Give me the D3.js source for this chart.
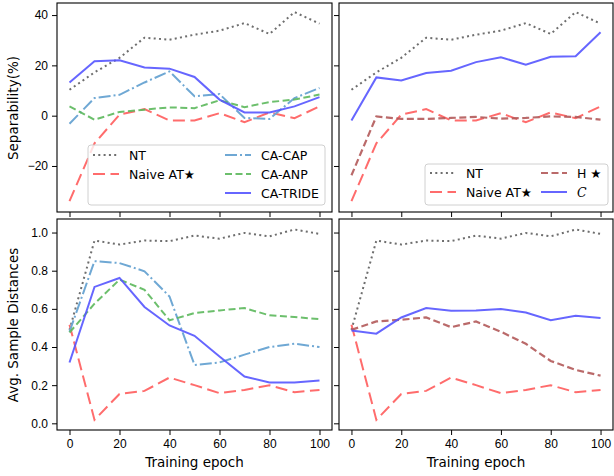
<!DOCTYPE html>
<html>
<head>
<meta charset="utf-8">
<script src="https://cdn.jsdelivr.net/npm/d3@7"></script>
<style>
  body { margin: 0; background: #fff; }
  svg { font-family: "DejaVu Sans", sans-serif; }
  .tick text { font-size: 12px; fill: #000; }
</style>
</head>
<body>
<svg width="614" height="476"></svg>
<script>
const epochs = [0, 10, 20, 30, 40, 50, 60, 70, 80, 90, 100];

// separability (%)
const sepNT = [10.3, 17.2, 23, 31, 30.2, 32.2, 33.8, 36.8, 32.5, 41.2, 36.6];
const sepNaive = [-34, -11, 0.4, 2.6, -1.9, -1.9, 1, -2.6, 1.3, -1, 3.7];
const sepCAP = [-3.2, 7, 8.3, 13.2, 17.6, 7.7, 8.6, -0.9, -1.3, 7, 11];
const sepANP = [3.7, -1.6, 1.5, 2.4, 3.3, 3, 6.1, 3.4, 5.4, 6.4, 8.4];
const sepTRIDE = [13.2, 21.6, 22, 19.2, 18.7, 15.4, 6.4, 1.3, 1.3, 3.7, 7.4];
const sepH = [-23.7, -0.3, -1.3, -1.3, -0.9, -0.5, -1.2, -0.9, -0.3, -0.5, -1.6];
const sepC = [-1.9, 15.2, 14, 17, 17.9, 21.3, 23.2, 20.3, 23.4, 23.6, 33.2];

// avg. sample distances
const distNT = [0.49, 0.958, 0.937, 0.958, 0.955, 0.984, 0.968, 0.998, 0.98, 1.016, 0.993];
const distNaive = [0.517, 0.018, 0.154, 0.17, 0.24, 0.2, 0.158, 0.175, 0.2, 0.163, 0.175];
const distCAP = [0.48, 0.85, 0.84, 0.797, 0.665, 0.306, 0.319, 0.36, 0.4, 0.417, 0.4];
const distANP = [0.476, 0.627, 0.753, 0.7, 0.54, 0.578, 0.592, 0.604, 0.566, 0.557, 0.546];
const distTRIDE = [0.319, 0.715, 0.762, 0.61, 0.513, 0.459, 0.35, 0.245, 0.214, 0.214, 0.224];
const distH = [0.49, 0.534, 0.543, 0.555, 0.504, 0.534, 0.48, 0.417, 0.327, 0.28, 0.25];
const distC = [0.487, 0.47, 0.555, 0.604, 0.59, 0.592, 0.599, 0.581, 0.54, 0.564, 0.552];

const xTicks = [0, 20, 40, 60, 80, 100];
const sepTicks = [-20, 0, 20, 40];
const distTicks = [0, 0.2, 0.4, 0.6, 0.8, 1.0];

const styles = {
  NT: { color: "#555", dash: "2,3.3", width: 2, opacity: 0.85 },
  Naive: { color: "#ff5c5c", dash: "12,5.5", width: 2, opacity: 0.9 },
  CAP: { color: "#6fa8d4", dash: "12,3,2,3", width: 2, opacity: 1 },
  ANP: { color: "#5cb85c", dash: "7,3.5", width: 2, opacity: 0.9 },
  TRIDE: { color: "#5555ff", dash: null, width: 2, opacity: 0.9 },
  H: { color: "#b25a5a", dash: "7,3.5", width: 2.2, opacity: 0.9 },
  C: { color: "#5555ff", dash: null, width: 2, opacity: 0.9 }
};

const svg = d3.select("svg");

const panels = [
  { x0: 57, x1: 332, y0: 3, y1: 212, dom: [-38.3, 44.8], ticks: sepTicks, labels: true, fmt: d3.format("d"),
    series: [["NT", sepNT], ["Naive", sepNaive], ["CAP", sepCAP], ["ANP", sepANP], ["TRIDE", sepTRIDE]] },
  { x0: 339, x1: 613, y0: 3, y1: 212, dom: [-38.3, 44.8], ticks: sepTicks, labels: false,
    series: [["NT", sepNT], ["Naive", sepNaive], ["H", sepH], ["C", sepC]] },
  { x0: 57, x1: 332, y0: 219, y1: 430, dom: [-0.035, 1.071], ticks: distTicks, labels: true, fmt: d3.format(".1f"), xlab: true,
    series: [["NT", distNT], ["Naive", distNaive], ["CAP", distCAP], ["ANP", distANP], ["TRIDE", distTRIDE]] },
  { x0: 339, x1: 613, y0: 219, y1: 430, dom: [-0.035, 1.071], ticks: distTicks, labels: false, xlab: true,
    series: [["NT", distNT], ["Naive", distNaive], ["H", distH], ["C", distC]] }
];

panels.forEach((p) => {
  const x = d3.scaleLinear().domain([-5, 105]).range([p.x0, p.x1]);
  const y = d3.scaleLinear().domain(p.dom).range([p.y1, p.y0]);

  const xAxis = d3.axisBottom(x).tickValues(xTicks).tickSize(5).tickPadding(4);
  if (!p.xlab) xAxis.tickFormat("");
  svg.append("g")
    .attr("transform", `translate(0,${p.y1})`)
    .call(xAxis)
    .call((g) => g.select(".domain").remove());

  const yAxis = d3.axisLeft(y).tickValues(p.ticks).tickSize(5).tickPadding(4);
  yAxis.tickFormat(p.labels ? (d) => p.fmt(d).replace("-", "\u2212") : "");
  svg.append("g")
    .attr("transform", `translate(${p.x0},0)`)
    .call(yAxis)
    .call((g) => g.select(".domain").remove());

  svg.selectAll(".tick line").attr("stroke", "#000").attr("stroke-width", 1);

  const clipId = "clip" + p.x0 + "_" + p.y0;
  svg.append("clipPath").attr("id", clipId)
    .append("rect").attr("x", p.x0).attr("y", p.y0).attr("width", p.x1 - p.x0).attr("height", p.y1 - p.y0);

  const line = d3.line().x((d, i) => x(epochs[i])).y((d) => y(d));
  const g = svg.append("g").attr("clip-path", `url(#${clipId})`);
  p.series.forEach(([key, vals]) => {
    const s = styles[key];
    g.append("path")
      .datum(vals)
      .attr("d", line)
      .attr("fill", "none")
      .attr("stroke", s.color)
      .attr("stroke-width", s.width)
      .attr("stroke-opacity", s.opacity)
      .attr("stroke-dasharray", s.dash);
  });

  svg.append("rect")
    .attr("x", p.x0).attr("y", p.y0)
    .attr("width", p.x1 - p.x0).attr("height", p.y1 - p.y0)
    .attr("fill", "none").attr("stroke", "#000").attr("stroke-width", 1.1);

  if (p.xlab) {
    svg.append("text")
      .attr("x", (p.x0 + p.x1) / 2).attr("y", 467)
      .attr("text-anchor", "middle").attr("font-size", 13.5)
      .text("Training epoch");
  }
});

// y labels
svg.append("text")
  .attr("transform", "translate(18,108) rotate(-90)")
  .attr("text-anchor", "middle").attr("font-size", 13.5)
  .text("Separability(%)");
svg.append("text")
  .attr("transform", "translate(18,325) rotate(-90)")
  .attr("text-anchor", "middle").attr("font-size", 13.5)
  .text("Avg. Sample Distances");

// legends
function legend(bx, by, bw, bh, items) {
  svg.append("rect")
    .attr("x", bx).attr("y", by).attr("width", bw).attr("height", bh)
    .attr("rx", 3).attr("fill", "#fff").attr("fill-opacity", 0.8)
    .attr("stroke", "#d0d0d0").attr("stroke-width", 1);
  items.forEach((it) => {
    const s = styles[it.key];
    svg.append("line")
      .attr("x1", it.x).attr("x2", it.x + 26)
      .attr("y1", it.y).attr("y2", it.y)
      .attr("stroke", s.color).attr("stroke-width", s.width)
      .attr("stroke-opacity", s.opacity)
      .attr("stroke-dasharray", s.dash);
    const t = svg.append("text")
      .attr("x", it.x + 36).attr("y", it.y + 4.5)
      .attr("font-size", 12.5).text(it.label);
    if (it.italic) t.attr("font-style", "italic").attr("font-family", "DejaVu Serif");
  });
}

legend(88, 145, 237, 60, [
  { key: "NT", label: "NT", x: 93, y: 155 },
  { key: "Naive", label: "Naive AT\u2605", x: 93, y: 174 },
  { key: "CAP", label: "CA-CAP", x: 225, y: 155 },
  { key: "ANP", label: "CA-ANP", x: 225, y: 174 },
  { key: "TRIDE", label: "CA-TRIDE", x: 225, y: 193 }
]);

legend(425, 164, 183, 41, [
  { key: "NT", label: "NT", x: 430, y: 173 },
  { key: "Naive", label: "Naive AT\u2605", x: 430, y: 192 },
  { key: "H", label: "H \u2605", x: 541, y: 173 },
  { key: "C", label: "C", x: 541, y: 192, italic: true }
]);
</script>
</body>
</html>
